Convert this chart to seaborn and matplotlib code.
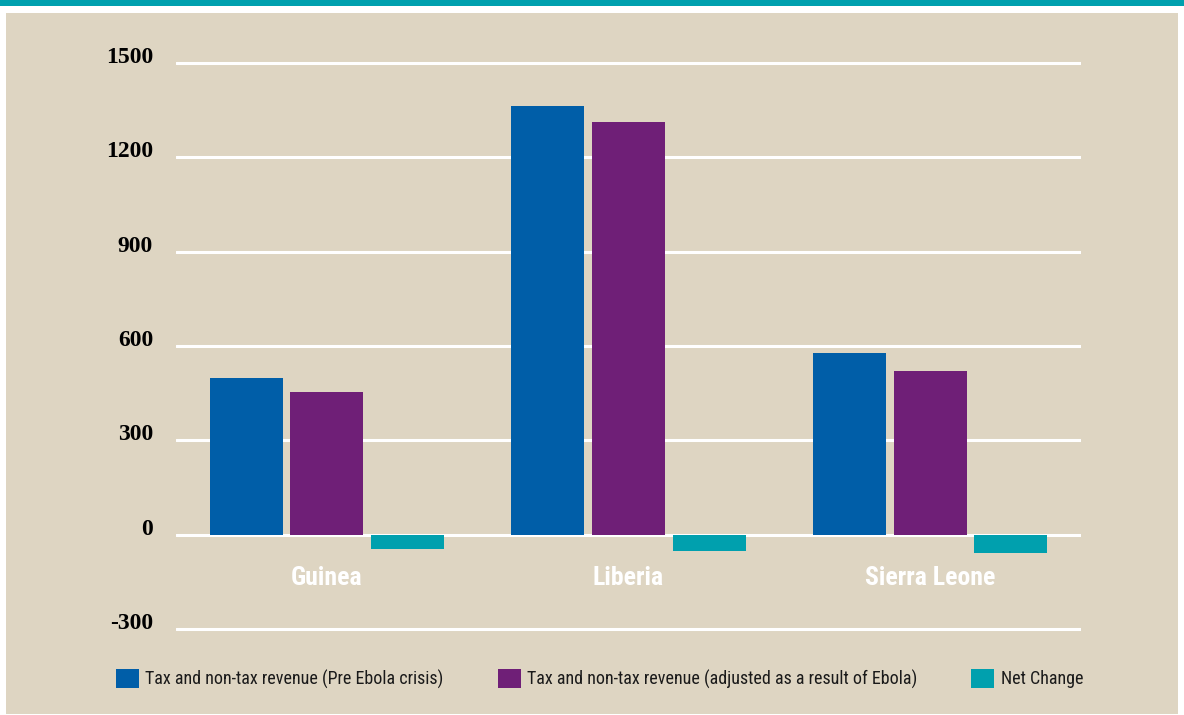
import matplotlib
matplotlib.use('Agg')
import matplotlib.pyplot as plt
from matplotlib.patches import Rectangle, Patch
import pandas as pd
import seaborn as sns

# Data
countries = ['Guinea', 'Liberia', 'Sierra Leone']
series_names = ['Tax and non-tax revenue (Pre Ebola crisis)',
                'Tax and non-tax revenue (adjusted as a result of Ebola)',
                'Net Change']
pre_ebola = [499, 1363, 578]
adjusted = [454, 1312, 521]
net_change = [-45, -51, -57]
yticks = [-300, 0, 300, 600, 900, 1200, 1500]

colors = ['#005EA8', '#6F1F77', '#00A0AE']
beige = '#DED5C2'
teal_band = '#00A0AE'

df = pd.DataFrame({
    'country': countries * 3,
    'series': [series_names[0]] * 3 + [series_names[1]] * 3 + [series_names[2]] * 3,
    'value': pre_ebola + adjusted + net_change,
})

sns.set_style('white')
# condensed sans if one is around, otherwise Noto Sans
narrow = ['Noto Sans Condensed', 'Roboto Condensed', 'Liberation Sans Narrow', 'Noto Sans', 'DejaVu Sans']
plt.rcParams['font.family'] = narrow
plt.rcParams['font.stretch'] = 'condensed'

fig = plt.figure(figsize=(11.84, 7.15), dpi=100, facecolor='white')
# page background: teal band on top, beige panel below
fig.add_artist(Rectangle((0, 1 - 6 / 715), 1, 6 / 715, transform=fig.transFigure,
                         facecolor=teal_band, edgecolor='none', zorder=-10))
fig.add_artist(Rectangle((6 / 1184, 1 / 715), 1172 / 1184, 701 / 715, transform=fig.transFigure,
                         facecolor=beige, edgecolor='none', zorder=-10))

ax = fig.add_axes([176 / 1184, 0.1159, 905 / 1184, 0.8004])
ax.patch.set_alpha(0)

sns.barplot(data=df, x='country', y='value', hue='series', hue_order=series_names,
            palette=colors, saturation=1, width=0.802, gap=0.093, linewidth=0,
            legend=False, ax=ax)

ax.set_xlim(-0.5, 2.5)
ax.set_ylim(-310, 1510)
ax.set_xticks([])
ax.set_xlabel('')
ax.set_ylabel('')
for s in ax.spines.values():
    s.set_visible(False)

ax.set_yticks(yticks)
ax.set_yticklabels([str(v) for v in yticks], fontfamily='Liberation Serif',
                   fontweight='bold', fontsize=17, fontstretch='normal',
                   color='black', va='baseline')
ax.set_axisbelow(True)
ax.yaxis.grid(True, color='white', linewidth=2.2)
ax.tick_params(axis='y', length=0, pad=16.5)

# country names in white inside the plot
for i, c in enumerate(countries):
    ax.text(i, -159, c, ha='center', va='baseline', color='white',
            fontsize=18.5, fontweight='bold')

handles = [Patch(facecolor=col, edgecolor='none') for col in colors]
fig.legend(handles, series_names, loc='center left', bbox_to_anchor=(116 / 1184, 0.051),
           ncol=3, frameon=False, fontsize=13, handlelength=1.27, handleheight=1.27,
           handletextpad=0.35, columnspacing=3.0, borderpad=0, borderaxespad=0,
           labelcolor='#1a1a1a')

fig.savefig('out.png', dpi=100, facecolor='white')
